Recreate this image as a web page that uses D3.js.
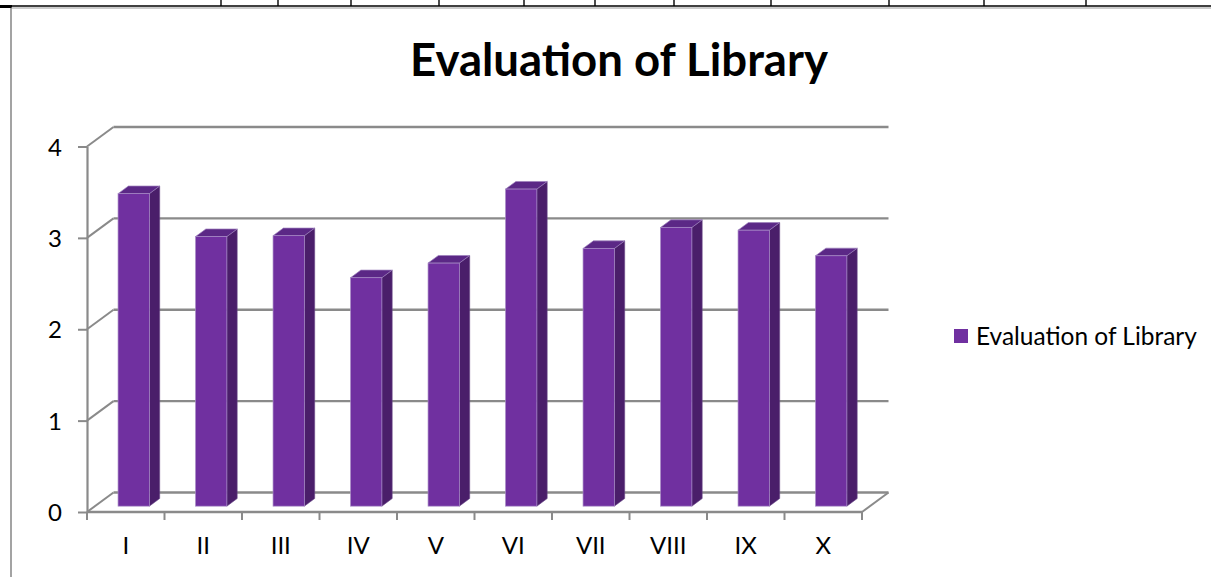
<!DOCTYPE html>
<html>
<head>
<meta charset="utf-8">
<script src="https://cdn.jsdelivr.net/npm/d3@7/dist/d3.min.js"></script>
<style>
  html, body { margin: 0; padding: 0; background: #fff; }
  svg { display: block; }
  text { font-family: Lato, "Open Sans", "DejaVu Sans", sans-serif; fill: #000; }
</style>
</head>
<body>
<svg id="chart" width="1211" height="577"></svg>
<script>
// ---- data ----
const categories = ["I", "II", "III", "IV", "V", "VI", "VII", "VIII", "IX", "X"];
const values = [3.42, 2.95, 2.96, 2.50, 2.66, 3.47, 2.82, 3.05, 3.02, 2.74];
const yTicks = [0, 1, 2, 3, 4];
const seriesName = "Evaluation of Library";
const titleText = "Evaluation of Library";
const tableTicksX = [221, 278, 351, 439, 524, 595, 674, 771, 889, 984, 1086];

// ---- layout ----
const W = 1211, H = 577;
const DX = 26.5, DY = 19.5;          // 3D depth offset (front -> back wall)
const barFront = 0.30, barBack = 0.69; // bar depth position as fraction of depth
const barFrac = 0.404;               // bar width as fraction of band
const colFront = "#7030a0", colTop = "#5b2886", colSide = "#4a1e6a";
const gridCol = "#8a8a8a";

const svg = d3.select("#chart");

// page/table decoration
svg.append("line").attr("x1", 0).attr("x2", W).attr("y1", 6).attr("y2", 6)
  .attr("stroke", "#000").attr("stroke-width", 1.6);
svg.append("rect").attr("x", 0).attr("y", 5).attr("width", 12).attr("height", 3).attr("fill", "#000");
svg.selectAll("line.tt").data(tableTicksX).join("line").attr("class", "tt")
  .attr("x1", d => d).attr("x2", d => d).attr("y1", 0).attr("y2", 6)
  .attr("stroke", "#000").attr("stroke-width", 1.4);
// chart frame
svg.append("line").attr("x1", 11).attr("x2", W).attr("y1", 8).attr("y2", 8)
  .attr("stroke", "#9a9a9a").attr("stroke-width", 1.2);
svg.append("line").attr("x1", 11).attr("x2", 11).attr("y1", 8).attr("y2", H)
  .attr("stroke", "#8c8c8c").attr("stroke-width", 1.6);

// scales
const y = d3.scaleLinear().domain([0, 4]).range([512, 146.5]);
const x = d3.scaleBand().domain(categories).range([87, 862]).padding(0);
const x0 = x.range()[0], x1 = x.range()[1];

const g = svg.append("g");

// back-wall gridlines + left-wall diagonals
yTicks.forEach(t => {
  g.append("line").attr("x1", x0 + DX).attr("x2", x1 + DX)
    .attr("y1", y(t) - DY).attr("y2", y(t) - DY)
    .attr("stroke", gridCol).attr("stroke-width", 2.4);
  g.append("line").attr("x1", x0).attr("x2", x0 + DX)
    .attr("y1", y(t)).attr("y2", y(t) - DY)
    .attr("stroke", gridCol).attr("stroke-width", 2);
});
// floor right diagonal
g.append("line").attr("x1", x1).attr("x2", x1 + DX)
  .attr("y1", y(0)).attr("y2", y(0) - DY)
  .attr("stroke", gridCol).attr("stroke-width", 2);

// bars
const bw = x.bandwidth();
const bars = g.selectAll("g.bar").data(categories.map((c, i) => ({c, v: values[i]}))).join("g").attr("class", "bar");
bars.each(function(d) {
  const sel = d3.select(this);
  const fx = x(d.c) + bw * (1 - barFrac) / 2 + DX * barFront;
  const fw = bw * barFrac;
  const top = y(d.v) - DY * barFront;
  const base = y(0) - DY * barFront;
  const ddx = DX * (barBack - barFront), ddy = DY * (barBack - barFront);
  // side
  sel.append("path")
    .attr("d", `M${fx + fw},${top} L${fx + fw + ddx},${top - ddy} L${fx + fw + ddx},${base - ddy} L${fx + fw},${base} Z`)
    .attr("fill", colSide).attr("stroke", "#6a4a8a").attr("stroke-width", 0.6);
  // top
  sel.append("path")
    .attr("d", `M${fx},${top} L${fx + ddx},${top - ddy} L${fx + fw + ddx},${top - ddy} L${fx + fw},${top} Z`)
    .attr("fill", colTop).attr("stroke", "#9c80bc").attr("stroke-width", 0.7);
  // front
  sel.append("rect").attr("x", fx).attr("y", top).attr("width", fw).attr("height", base - top)
    .attr("fill", colFront).attr("stroke", "#a78bc6").attr("stroke-width", 0.7);
});

// y axis
const yAxis = d3.axisLeft(y).tickValues(yTicks).tickFormat(d3.format("d"))
  .tickSize(9).tickSizeOuter(0).tickPadding(16);
const ya = svg.append("g").attr("transform", `translate(${x0},0)`).call(yAxis);
ya.select(".domain").attr("stroke", gridCol).attr("stroke-width", 2.2);
ya.selectAll(".tick line").attr("stroke", gridCol).attr("stroke-width", 2);
ya.selectAll(".tick text").attr("font-size", 24).attr("dy", "0.36em");

// x axis: front floor line, boundary ticks, centered labels
svg.append("line").attr("x1", x0).attr("x2", x1).attr("y1", y(0)).attr("y2", y(0))
  .attr("stroke", gridCol).attr("stroke-width", 2.4);
const bounds = categories.map(c => x(c)).concat([x1]);
svg.selectAll("line.xt").data(bounds).join("line").attr("class", "xt")
  .attr("x1", d => d).attr("x2", d => d).attr("y1", y(0)).attr("y2", y(0) + 8)
  .attr("stroke", gridCol).attr("stroke-width", 2);
const xAxis = d3.axisBottom(x).tickSize(0).tickPadding(0);
const xa = svg.append("g").attr("transform", `translate(0,${y(0)})`).call(xAxis);
xa.select(".domain").remove();
xa.selectAll(".tick text").attr("font-size", 24).attr("y", 33).attr("dy", "0.36em");

// title
const title = svg.append("text").attr("x", 619).attr("y", 76).attr("text-anchor", "middle")
  .attr("font-weight", "bold").attr("font-size", 46).text(titleText);
{
  const w = title.node().getComputedTextLength();
  title.attr("font-size", 46 * 418 / w);
}

// legend
svg.append("rect").attr("x", 954).attr("y", 329).attr("width", 14).attr("height", 14).attr("fill", colFront);
const lt = svg.append("text").attr("x", 976).attr("y", 336).attr("dy", "0.36em")
  .attr("font-size", 24).text(seriesName);
{
  const w = lt.node().getComputedTextLength();
  lt.attr("font-size", 24 * 221 / w);
}
</script>
</body>
</html>
